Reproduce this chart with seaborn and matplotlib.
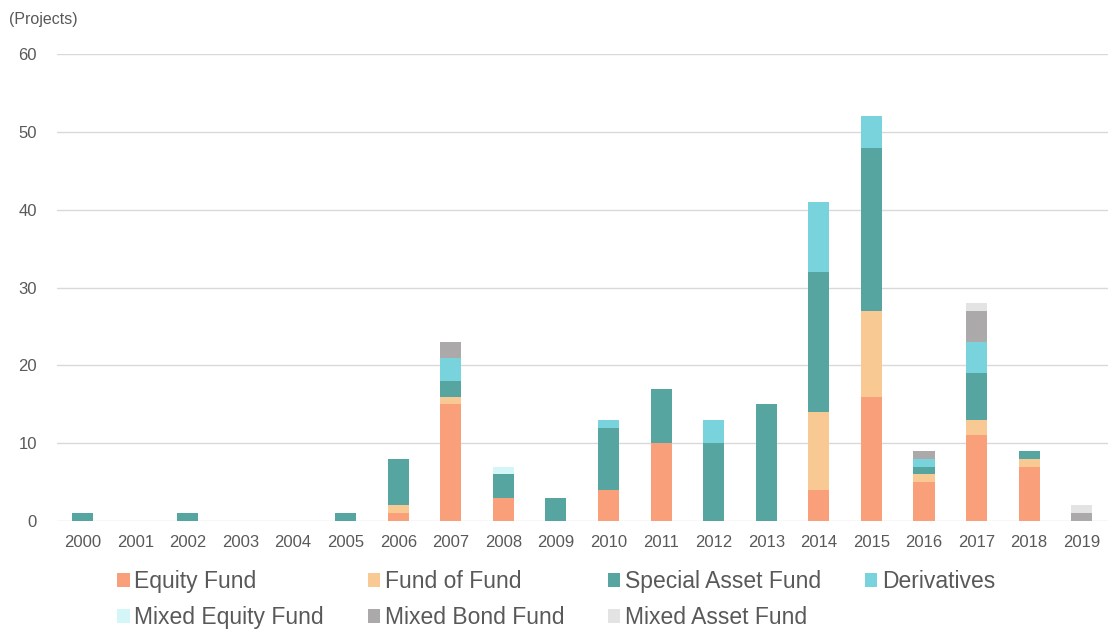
import numpy as np
import pandas as pd
import matplotlib
matplotlib.use('Agg')
import matplotlib.pyplot as plt
from matplotlib.patches import Patch
import seaborn as sns

years = [str(y) for y in range(2000, 2020)]

equity_fund =        [0, 0, 0, 0, 0, 0, 1, 15, 3, 0, 4, 10, 0, 0, 4, 16, 5, 11, 7, 0]
fund_of_fund =       [0, 0, 0, 0, 0, 0, 1, 1, 0, 0, 0, 0, 0, 0, 10, 11, 1, 2, 1, 0]
special_asset_fund = [1, 0, 1, 0, 0, 1, 6, 2, 3, 3, 8, 7, 10, 15, 18, 21, 1, 6, 1, 0]
derivatives =        [0, 0, 0, 0, 0, 0, 0, 3, 0, 0, 1, 0, 3, 0, 9, 4, 1, 4, 0, 0]
mixed_equity_fund =  [0, 0, 0, 0, 0, 0, 0, 0, 1, 0, 0, 0, 0, 0, 0, 0, 0, 0, 0, 0]
mixed_bond_fund =    [0, 0, 0, 0, 0, 0, 0, 2, 0, 0, 0, 0, 0, 0, 0, 0, 1, 4, 0, 1]
mixed_asset_fund =   [0, 0, 0, 0, 0, 0, 0, 0, 0, 0, 0, 0, 0, 0, 0, 0, 0, 1, 0, 1]

series = [
    ('Equity Fund', equity_fund, '#F9A07B'),
    ('Fund of Fund', fund_of_fund, '#F9C994'),
    ('Special Asset Fund', special_asset_fund, '#56A5A0'),
    ('Derivatives', derivatives, '#79D3DD'),
    ('Mixed Equity Fund', mixed_equity_fund, '#D4F6F9'),
    ('Mixed Bond Fund', mixed_bond_fund, '#ABA9A9'),
    ('Mixed Asset Fund', mixed_asset_fund, '#E3E3E3'),
]

sns.set_style('white')
plt.rcParams['font.family'] = ['Liberation Sans', 'DejaVu Sans']
txt = '#595959'

fig = plt.figure(figsize=(11.08, 6.30), dpi=100)
ax = fig.add_axes([0.051, 0.173, 0.949, 0.741])

bottom = np.zeros(len(years))
for name, vals, col in series:
    sns.barplot(x=years, y=vals, order=years, bottom=bottom, color=col,
                width=0.4, errorbar=None, linewidth=0, saturation=1, ax=ax)
    bottom = bottom + np.array(vals)

ax.set_ylim(0, 60)
ax.set_yticks(range(0, 61, 10))
ax.grid(axis='y', color='#D9D9D9', linewidth=1)
ax.set_axisbelow(True)
for s in ax.spines.values():
    s.set_visible(False)
ax.tick_params(axis='both', length=0, labelsize=12, colors=txt)
ax.tick_params(axis='x', pad=10)
ax.tick_params(axis='y', pad=14)
ax.set_xlabel('')
ax.set_ylabel('')

fig.text(0.008, 0.962, '(Projects)', fontsize=11.5, color=txt)

handles = [Patch(facecolor=c, edgecolor='none', label=n) for n, v, c in series]
order = [0, 4, 1, 5, 2, 6, 3]
leg = fig.legend([handles[i] for i in order], [series[i][0] for i in order],
                 ncol=4, loc='center', bbox_to_anchor=(0.502, 0.048), frameon=False,
                 fontsize=16.5, handlelength=0.55, handleheight=0.55, handletextpad=0.2,
                 columnspacing=1.9, labelspacing=0.55)
for t in leg.get_texts():
    t.set_color(txt)

fig.savefig('out.png', dpi=100)
